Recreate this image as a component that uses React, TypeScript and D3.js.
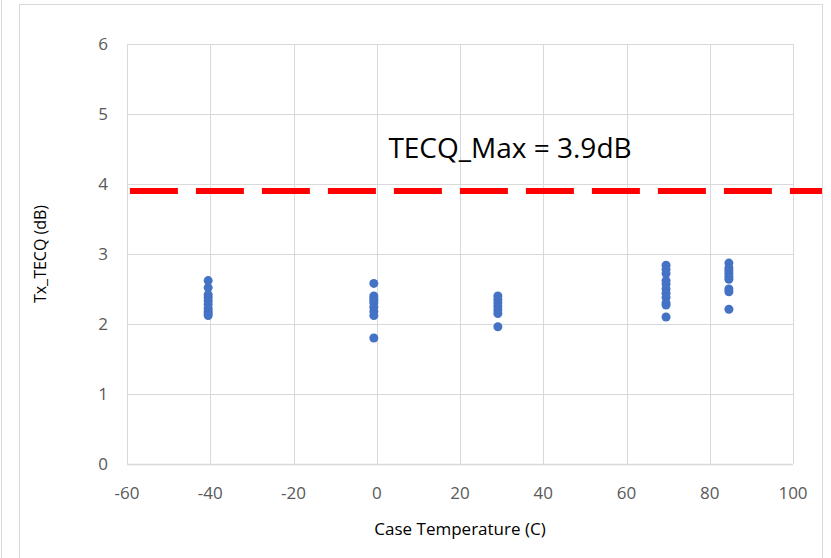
import { useEffect, useRef } from "react";
import * as d3 from "d3";

// case temperature groups and Tx_TECQ readings (dB)
const groupTemps = [-40.5, -0.7, 29.1, 69.5, 84.6];
const groupValues = [
  [2.62, 2.52, 2.42, 2.38, 2.33, 2.28, 2.22, 2.18, 2.15, 2.12],
  [2.58, 2.4, 2.37, 2.34, 2.3, 2.24, 2.18, 2.12, 1.8],
  [2.4, 2.35, 2.3, 2.25, 2.2, 2.15, 1.96],
  [2.84, 2.78, 2.72, 2.62, 2.57, 2.5, 2.44, 2.38, 2.3, 2.27, 2.1],
  [2.87, 2.8, 2.76, 2.72, 2.68, 2.64, 2.5, 2.46, 2.21],
];
const xTicks = [-60, -40, -20, 0, 20, 40, 60, 80, 100];
const yTicks = [0, 1, 2, 3, 4, 5, 6];
const maxLimit = 3.9;
const limitLabel = "TECQ_Max = 3.9dB";

const width = 831;
const height = 558;

export default function App() {
  const svgRef = useRef<SVGSVGElement | null>(null);

  useEffect(() => {
    document.body.style.margin = "0";
    const svg = d3.select(svgRef.current);
    svg.selectAll("*").remove();

    const margin = { top: 44, right: 38, bottom: 94, left: 127 };
    const innerW = width - margin.left - margin.right;
    const innerH = height - margin.top - margin.bottom;
    const font = "Open Sans, Noto Sans, sans-serif";

    const x = d3.scaleLinear().domain([-60, 100]).range([0, innerW]);
    const y = d3.scaleLinear().domain([0, 6]).range([innerH, 0]);

    svg
      .append("rect")
      .attr("width", width)
      .attr("height", height)
      .attr("fill", "#fff");

    // chart frame
    svg
      .append("rect")
      .attr("x", 19.5)
      .attr("y", 4.5)
      .attr("width", 803)
      .attr("height", 570)
      .attr("fill", "none")
      .attr("stroke", "#d9d9d9");
    svg
      .append("line")
      .attr("x1", 1.5)
      .attr("x2", 1.5)
      .attr("y1", 0)
      .attr("y2", height)
      .attr("stroke", "#d9d9d9");

    const g = svg
      .append("g")
      .attr("transform", `translate(${margin.left},${margin.top})`);

    g.selectAll(".vgrid")
      .data(xTicks)
      .enter()
      .append("line")
      .attr("x1", (d) => Math.round(x(d)) + 0.5)
      .attr("x2", (d) => Math.round(x(d)) + 0.5)
      .attr("y1", 0)
      .attr("y2", innerH)
      .attr("stroke", "#d9d9d9");

    g.selectAll(".hgrid")
      .data(yTicks)
      .enter()
      .append("line")
      .attr("x1", 0)
      .attr("x2", innerW)
      .attr("y1", (d) => Math.round(y(d)) + 0.5)
      .attr("y2", (d) => Math.round(y(d)) + 0.5)
      .attr("stroke", "#d9d9d9")
      .attr("stroke-width", (d) => (d === 0 ? 1.5 : 1));

    g.selectAll(".xlab")
      .data(xTicks)
      .enter()
      .append("text")
      .attr("x", (d) => x(d))
      .attr("y", innerH + 35)
      .attr("text-anchor", "middle")
      .attr("font-family", font)
      .attr("font-size", 17)
      .attr("fill", "#595959")
      .text((d) => d);

    g.selectAll(".ylab")
      .data(yTicks)
      .enter()
      .append("text")
      .attr("x", -19)
      .attr("y", (d) => y(d) + 6)
      .attr("text-anchor", "end")
      .attr("font-family", font)
      .attr("font-size", 17)
      .attr("fill", "#595959")
      .text((d) => d);

    // limit line, runs past the plot to the chart frame
    svg
      .append("clipPath")
      .attr("id", "frame-clip")
      .append("rect")
      .attr("x", 20)
      .attr("y", 5)
      .attr("width", 802)
      .attr("height", height);
    svg
      .append("line")
      .attr("clip-path", "url(#frame-clip)")
      .attr("x1", margin.left + x(-59.3))
      .attr("x2", margin.left + x(108))
      .attr("y1", margin.top + y(maxLimit))
      .attr("y2", margin.top + y(maxLimit))
      .attr("stroke", "#ff0000")
      .attr("stroke-width", 6)
      .attr("stroke-dasharray", "48 18");

    g.append("text")
      .attr("x", x(2.8))
      .attr("y", y(maxLimit) - 33)
      .attr("font-family", font)
      .attr("font-size", 28)
      .attr("fill", "#000")
      .text(limitLabel);

    const points = groupTemps.flatMap((t, i) =>
      groupValues[i].map((v) => ({ t, v }))
    );
    g.selectAll("circle")
      .data(points)
      .enter()
      .append("circle")
      .attr("cx", (d) => x(d.t))
      .attr("cy", (d) => y(d.v))
      .attr("r", 4.5)
      .attr("fill", "#4472c4");

    svg
      .append("text")
      .attr("x", margin.left + innerW / 2)
      .attr("y", 535)
      .attr("text-anchor", "middle")
      .attr("font-family", font)
      .attr("font-size", 17)
      .attr("fill", "#000")
      .text("Case Temperature (C)");

    svg
      .append("text")
      .attr(
        "transform",
        `translate(46,${margin.top + innerH / 2}) rotate(-90)`
      )
      .attr("text-anchor", "middle")
      .attr("font-family", font)
      .attr("font-size", 16)
      .attr("fill", "#000")
      .text("Tx_TECQ (dB)");
  }, []);

  return (
    <div style={{ position: "absolute", left: 0, top: 0 }}>
      <svg ref={svgRef} width={width} height={height}></svg>
    </div>
  );
}
